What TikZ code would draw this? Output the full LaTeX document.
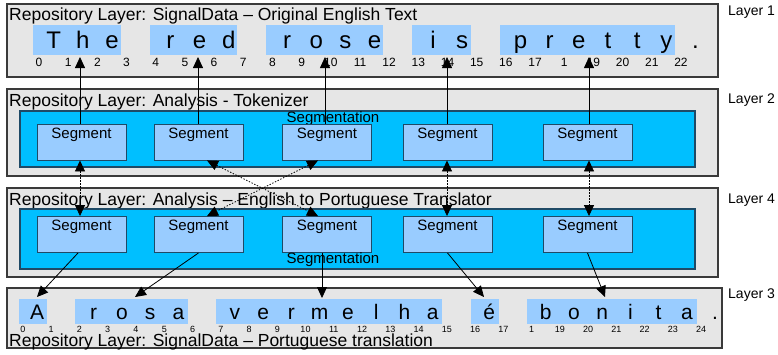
\documentclass[tikz,border=0pt]{standalone}
\usepackage{fontspec}
\setmainfont{Liberation Sans}
\usetikzlibrary{arrows.meta,calc}
\definecolor{layergray}{HTML}{E6E6E6}
\definecolor{segblue}{HTML}{00BFFF}
\definecolor{lightblue}{HTML}{99CCFF}
\definecolor{borderdark}{HTML}{3A3A3A}
\definecolor{bluedark}{HTML}{1F4A66}
\tikzset{
  layerbox/.style={draw=borderdark,fill=layergray,line width=1.3pt},
  segarea/.style={draw=bluedark,fill=segblue,line width=1.1pt},
  segbox/.style={draw=bluedark,fill=lightblue,line width=0.9pt,minimum width=89pt,minimum height=36pt,inner sep=0pt,
    label={[anchor=north,inner sep=4pt,font=\fontsize{15}{17}\selectfont]north:Segment}},
  hl/.style={fill=lightblue},
  title/.style={anchor=base west,inner sep=0pt,font=\fontsize{17.5}{20}\selectfont},
  layerlab/.style={anchor=base west,inner sep=0pt,font=\fontsize{14}{16}\selectfont},
  biglet/.style={anchor=base,inner sep=0pt,font=\fontsize{24}{28}\selectfont},
  midlet/.style={anchor=base,inner sep=0pt,font=\fontsize{21}{24}\selectfont},
  numA/.style={anchor=base,inner sep=0pt,font=\fontsize{12}{14}\selectfont},
  numB/.style={anchor=base,inner sep=0pt,font=\fontsize{9}{11}\selectfont},
  seglab/.style={anchor=base,inner sep=0pt,font=\fontsize{15}{17}\selectfont},
  conn/.style={line width=0.8pt,-{Triangle[length=11pt,width=10pt]}},
  dotconn/.style={line width=0.8pt,dash pattern=on 1.4pt off 1.6pt,{Triangle[length=11pt,width=10pt]}-{Triangle[length=11pt,width=10pt]}},
}
\begin{document}
\begin{tikzpicture}[x=1pt,y=-1pt]
\useasboundingbox (0,0) rectangle (778,354);
% ---------- Layer boxes ----------
\draw[layerbox] (7,4) rectangle (718,77);
\draw[layerbox] (7,89) rectangle (718,176);
\draw[layerbox] (7,188) rectangle (718,277);
\draw[layerbox] (7,288) rectangle (722,348);
\node[layerlab] (lab1) at (728,15) {Layer 1};
\node[layerlab] (lab2) at (728,103) {Layer 2};
\node[layerlab] (lab4) at (728,203) {Layer 4};
\node[layerlab] (lab3) at (728,298) {Layer 3};
% ---------- Layer 1: English text ----------
\node[title] (t1) at (9,20.5) {Repository Layer: SignalData – Original English Text};
\foreach \a/\b in {0/3,4/7,8/12,13/15,16/22}
  \fill[hl] (39+29.18*\a-6,25) rectangle (39+29.18*\b-6,55);
\foreach \c/\i in {T/0,h/1,e/2,r/4,e/5,d/6,r/8,o/9,s/10,e/11,i/13,s/14,p/16,r/17,e/18,t/19,t/20,y/21,./22}
  \node[biglet] (en\i) at (39+29.18*\i+14.6,48) {\c};
\foreach \n [count=\k from 0] in {0,1,2,3,4,5,6,7,8,9,10,11,12,13,14,15,16,17,1,19,20,21,22}
  \node[numA] (enn\k) at (39+29.18*\k,66.3) {\n};
% ---------- Layer 2: Tokenizer ----------
\node[title] (t2) at (9,106) {Repository Layer: Analysis - Tokenizer};
\draw[segarea] (20,111) rectangle (695,167);
\node[seglab] (sg2) at (333,122) {Segmentation};
\node[segbox] (a1) at (81.5,142) {};
\node[segbox] (a2) at (198.5,142) {};
\node[segbox] (a3) at (327,142) {};
\node[segbox] (a4) at (447.5,142) {};
\node[segbox] (a5) at (587.5,142) {};
% ---------- Layer 4: Translator ----------
\node[title] (t4) at (9,205) {Repository Layer: Analysis – English to Portuguese Translator};
\draw[segarea] (20,209) rectangle (695,269);
\node[segbox] (b1) at (81.5,234.5) {};
\node[segbox] (b2) at (198.5,234.5) {};
\node[segbox] (b3) at (327,234.5) {};
\node[segbox] (b4) at (447.5,234.5) {};
\node[segbox] (b5) at (587.5,234.5) {};
\node[seglab] (sg4) at (333,263) {Segmentation};
% ---------- Layer 3: Portuguese text ----------
\foreach \a/\b in {0/1,2/6,7/15,16/17,18/24}
  \fill[hl] (23+28.25*\a-4.5,299) rectangle (23+28.25*\b-4.5,324);
\foreach \c/\i in {A/0,r/2,o/3,s/4,a/5,v/7,e/8,r/9,m/10,e/11,l/12,h/13,a/14,é/16,b/18,o/19,n/20,i/21,t/22,a/23,./24}
  \node[midlet] (pt\i) at (23+28.25*\i+14.1,319.5) {\c};
\foreach \n [count=\k from 0] in {0,1,2,3,4,5,6,7,8,9,10,11,12,13,14,15,16,17,1,19,20,21,22,23,24}
  \node[numB] (ptn\k) at (23+28.25*\k,332.8) {\n};
\node[title] (t3) at (9,346) {Repository Layer: SignalData – Portuguese translation};
% ---------- Connector targets ----------
\coordinate (p1) at (80,57);
\coordinate (p2) at (198,57);
\coordinate (p3) at (325,57);
\coordinate (p4) at (447,57);
\coordinate (p5) at (589,57);
\coordinate (q1) at (37,297);
\coordinate (q2) at (135,297);
\coordinate (q3) at (322,298);
\coordinate (q4) at (484,297);
\coordinate (q5) at (605,297);
% ---------- Layer 2 -> Layer 1 ----------
\draw[conn] (a1.north -| p1) -- (p1);
\draw[conn] (a2.north -| p2) -- (p2);
\draw[conn] (a3.north -| p3) -- (p3);
\draw[conn] (a4.north -| p4) -- (p4);
\draw[conn] (a5.north -| p5) -- (p5);
% ---------- Layer 2 <-> Layer 4 ----------
\draw[dotconn] (a1.south -| p1) -- (b1.north -| p1);
\draw[dotconn] ($(a2.south)+(8.5,0)$) -- ($(b3.north)+(-9,0)$);
\draw[dotconn] ($(a3.south)+(-9,0)$) -- ($(b2.north)+(8.5,0)$);
\draw[dotconn] (a4.south -| p4) -- (b4.north -| p4);
\draw[dotconn] (a5.south -| p5) -- (b5.north -| p5);
% ---------- Layer 4 -> Layer 3 ----------
\draw[conn] ($(b1.south)+(-3.5,0)$) -- (q1);
\draw[conn] (b2.south) -- (q2);
\draw[conn] (b3.south -| q3) -- (q3);
\draw[conn] (b4.south) -- (q4);
\draw[conn] (b5.south) -- (q5);
\end{tikzpicture}
\end{document}
